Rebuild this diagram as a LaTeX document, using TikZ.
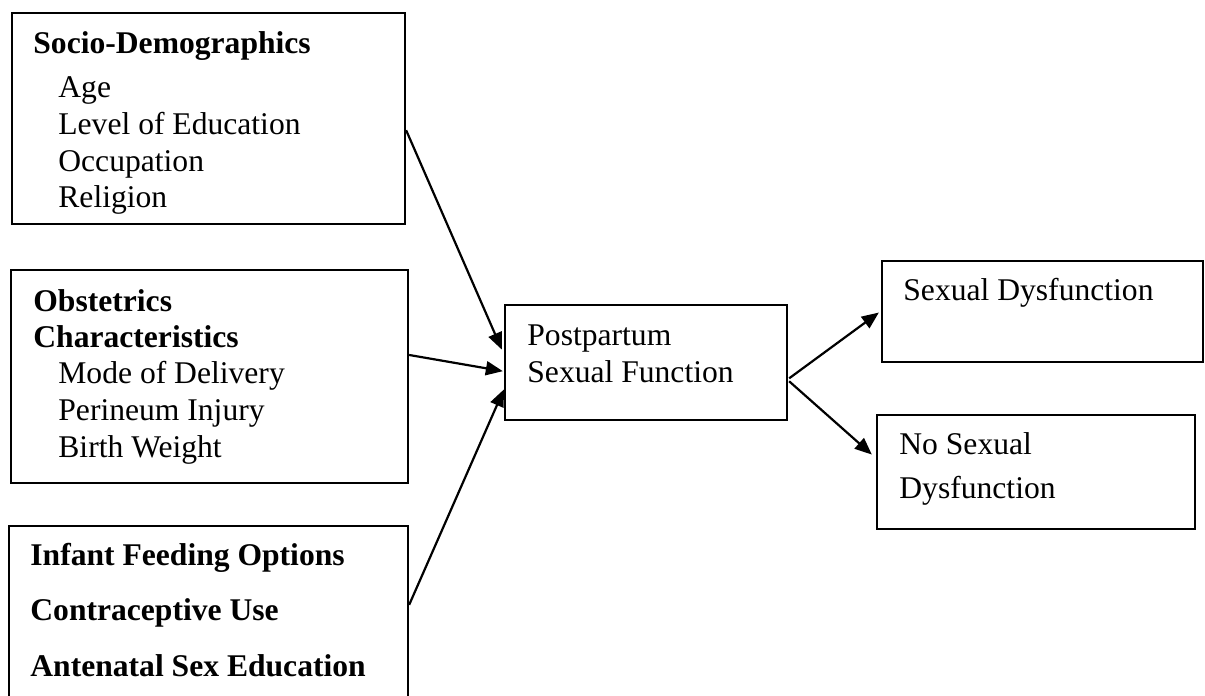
\documentclass[tikz,border=0pt]{standalone}
\usepackage{fontspec}
\setmainfont{Liberation Serif}
\usetikzlibrary{arrows.meta,calc}
\tikzset{
  box/.style={draw, line width=1.15pt, rectangle, inner sep=0pt, fill=none},
  txt/.style={anchor=base west, inner sep=0pt, font=\fontsize{15.8}{18}\selectfont},
  btxt/.style={txt, font=\fontsize{15.8}{18}\selectfont\bfseries},
  arr/.style={line width=1.1pt, -{Triangle[length=8.5pt,width=7pt]}}
}
\begin{document}
\begin{tikzpicture}[x=0.5pt,y=-0.5pt]
\clip (0,0) rectangle (1205,696);
\fill[white] (0,0) rectangle (1205,696);
% boxes
\node[box, minimum width=196.5pt, minimum height=105.5pt] (b1) at (208.5,118.5) {};
\node[box, minimum width=198.5pt, minimum height=106.5pt] (b2) at (209.5,376.5) {};
\node[box, minimum width=199.5pt, minimum height=95pt] (b3) at (208.5,621) {};
\node[box, minimum width=141pt, minimum height=57.5pt] (c) at (646,362.5) {};
\node[box, minimum width=160.5pt, minimum height=50.5pt] (sd) at (1042.5,311.5) {};
\node[box, minimum width=159pt, minimum height=57pt] (nsd) at (1036,472) {};
% texts box 1
\node[btxt] (t11) at (33,54) {Socio-Demographics};
\node[txt] (t12) at (58,97) {Age};
\node[txt] (t13) at (58,134) {Level of Education};
\node[txt] (t14) at (58,171) {Occupation};
\node[txt] (t15) at (58,207) {Religion};
% box 2
\node[btxt] (t21) at (33,311) {Obstetrics};
\node[btxt] (t22) at (33,347) {Characteristics};
\node[txt] (t23) at (58,383) {Mode of Delivery};
\node[txt] (t24) at (58,420) {Perineum Injury};
\node[txt] (t25) at (58,457) {Birth Weight};
% box 3
\node[btxt] (t31) at (30,565) {Infant Feeding Options};
\node[btxt] (t32) at (30,620) {Contraceptive Use};
\node[btxt] (t33) at (30,676) {Antenatal Sex Education};
% center
\node[txt] (tc1) at (527,345) {Postpartum};
\node[txt] (tc2) at (527,382) {Sexual Function};
% outcomes
\node[txt] (ts1) at (903,300) {Sexual Dysfunction};
\node[txt] (tn1) at (899,454) {No Sexual};
\node[txt] (tn2) at (899,498) {Dysfunction};
% connectors
\draw[arr] ($(b1.north east)!0.555!(b1.south east)$) -- ($(c.north west)!0.39!(c.south west)+(-2,0)$);
\draw[arr] ($(b2.north east)!0.40!(b2.south east)$) -- ($(c.north west)!0.574!(c.south west)+(-1,0)$);
\draw[arr] ($(b3.north east)!0.416!(b3.south east)$) -- ($(c.north west)!0.73!(c.south west)$);
\draw[arr] ($(c.north east)!0.635!(c.south east)+(1,0)$) -- ($(sd.north west)!0.51!(sd.south west)+(-2,0)$);
\draw[arr] ($(c.north east)!0.66!(c.south east)+(1,0)$) -- ($(nsd.north west)!0.35!(nsd.south west)+(-4,0)$);
\end{tikzpicture}
\end{document}
